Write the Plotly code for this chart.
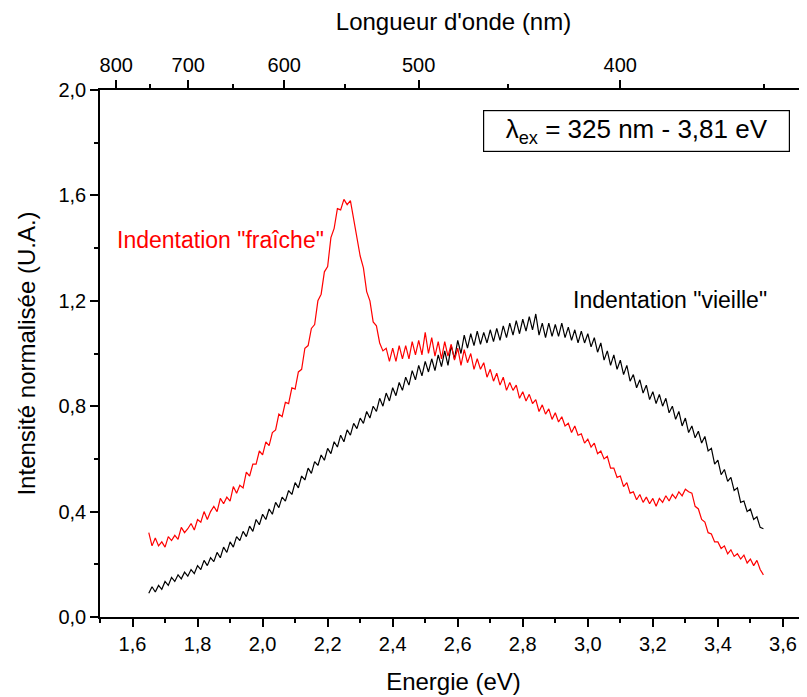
import plotly.graph_objects as go

# Spectres de photoluminescence (pas de 0,01 eV, de 1,65 a 3,54 eV)
energie = [round(1.65 + 0.01 * i, 2) for i in range(190)]

fraiche = [
    0.32, 0.27, 0.30, 0.27, 0.285, 0.265, 0.305, 0.29, 0.31, 0.295,
    0.34, 0.32, 0.335, 0.355, 0.33, 0.37, 0.36, 0.40, 0.37, 0.40,
    0.42, 0.40, 0.45, 0.43, 0.455, 0.44, 0.495, 0.47, 0.50, 0.49,
    0.55, 0.535, 0.58, 0.58, 0.63, 0.615, 0.665, 0.65, 0.70, 0.71,
    0.77, 0.76, 0.815, 0.81, 0.87, 0.865, 0.93, 0.94, 1.02, 1.03,
    1.095, 1.11, 1.20, 1.225, 1.31, 1.33, 1.44, 1.475, 1.55, 1.545,
    1.585, 1.565, 1.58, 1.51, 1.455, 1.37, 1.325, 1.235, 1.20, 1.12,
    1.105, 1.04, 1.01, 1.02, 0.97, 1.02, 0.97, 1.03, 0.98, 1.03,
    0.98, 1.045, 0.995, 1.05, 0.995, 1.08, 1.00, 1.06, 0.99, 1.045,
    0.98, 1.045, 0.99, 1.035, 0.975, 1.02, 0.955, 1.015, 0.965, 1.00,
    0.94, 0.98, 0.94, 0.965, 0.91, 0.94, 0.895, 0.925, 0.88, 0.91,
    0.86, 0.89, 0.86, 0.88, 0.83, 0.855, 0.82, 0.845, 0.81, 0.825,
    0.78, 0.805, 0.77, 0.79, 0.75, 0.775, 0.74, 0.76, 0.725, 0.735,
    0.70, 0.725, 0.69, 0.695, 0.66, 0.675, 0.645, 0.66, 0.62, 0.63,
    0.60, 0.61, 0.565, 0.565, 0.53, 0.535, 0.495, 0.51, 0.47, 0.475,
    0.445, 0.465, 0.435, 0.455, 0.43, 0.45, 0.42, 0.45, 0.435, 0.46,
    0.44, 0.465, 0.45, 0.475, 0.46, 0.485, 0.475, 0.47, 0.42, 0.41,
    0.37, 0.36, 0.32, 0.315, 0.285, 0.285, 0.26, 0.27, 0.24, 0.255,
    0.23, 0.24, 0.22, 0.235, 0.205, 0.22, 0.195, 0.215, 0.18, 0.16,
]

vieille = [
    0.09, 0.115, 0.095, 0.12, 0.105, 0.135, 0.12, 0.15, 0.135, 0.16,
    0.145, 0.17, 0.155, 0.18, 0.165, 0.195, 0.18, 0.215, 0.195, 0.225,
    0.21, 0.245, 0.225, 0.265, 0.245, 0.285, 0.265, 0.305, 0.29, 0.325,
    0.305, 0.345, 0.325, 0.37, 0.35, 0.39, 0.37, 0.41, 0.39, 0.435,
    0.415, 0.455, 0.44, 0.48, 0.465, 0.51, 0.49, 0.535, 0.52, 0.565,
    0.545, 0.59, 0.575, 0.615, 0.595, 0.64, 0.62, 0.665, 0.645, 0.69,
    0.665, 0.71, 0.69, 0.735, 0.715, 0.755, 0.735, 0.78, 0.755, 0.80,
    0.78, 0.83, 0.80, 0.85, 0.82, 0.87, 0.84, 0.89, 0.86, 0.91,
    0.88, 0.935, 0.90, 0.955, 0.915, 0.97, 0.93, 0.98, 0.935, 0.995,
    0.95, 1.01, 0.955, 1.03, 0.98, 1.05, 1.00, 1.07, 1.02, 1.075,
    1.03, 1.085, 1.035, 1.08, 1.04, 1.09, 1.045, 1.095, 1.05, 1.105,
    1.06, 1.115, 1.07, 1.125, 1.075, 1.13, 1.085, 1.14, 1.09, 1.15,
    1.07, 1.115, 1.06, 1.115, 1.065, 1.11, 1.065, 1.115, 1.06, 1.10,
    1.05, 1.09, 1.04, 1.085, 1.04, 1.075, 1.025, 1.06, 1.005, 1.04,
    0.975, 1.01, 0.955, 0.995, 0.94, 0.975, 0.92, 0.955, 0.895, 0.92,
    0.87, 0.90, 0.85, 0.88, 0.825, 0.855, 0.81, 0.845, 0.80, 0.83,
    0.775, 0.80, 0.75, 0.78, 0.725, 0.755, 0.70, 0.725, 0.68, 0.705,
    0.66, 0.685, 0.63, 0.64, 0.58, 0.595, 0.54, 0.56, 0.515, 0.53,
    0.48, 0.49, 0.435, 0.44, 0.40, 0.41, 0.37, 0.38, 0.34, 0.335,
]

# Axe du haut : longueurs d'onde (nm), placees en energie E = hc / lambda
lambda_majeurs = [800, 700, 600, 500, 400]
lambda_mineurs = [750, 650, 550, 450, 350]
HC = 1239.84

x_range = [1.5, 3.674]
police = "Arial, Liberation Sans, sans-serif"

fig = go.Figure()

fig.add_trace(go.Scatter(
    x=energie, y=vieille, mode="lines",
    line=dict(color="black", width=1.2), name="Indentation \"vieille\"",
))
fig.add_trace(go.Scatter(
    x=energie, y=fraiche, mode="lines",
    line=dict(color="#ff0000", width=1.2), name="Indentation \"fraîche\"",
))
# trace invisible pour ancrer l'axe du haut
fig.add_trace(go.Scatter(
    x=[energie[0]], y=[vieille[0]], xaxis="x2", mode="lines",
    line=dict(color="rgba(0,0,0,0)"), hoverinfo="skip", showlegend=False,
))

axe = dict(
    showline=True, linecolor="black", linewidth=1.5,
    ticks="outside", ticklen=8, tickwidth=1.5, tickcolor="black",
    showgrid=False, zeroline=False, mirror=False,
    tickfont=dict(size=20, color="black"),
)
mineur = dict(ticks="outside", ticklen=4, tickwidth=1.5, tickcolor="black")

# la page ajoute 8 px de marge au corps : la figure est reduite d'autant
fig.update_layout(
    width=799,
    height=689,
    margin=dict(l=92, r=0, t=82, b=80),
    plot_bgcolor="white",
    paper_bgcolor="white",
    separators=",.",
    showlegend=False,
    font=dict(family=police, color="black"),
    xaxis=dict(
        axe, range=x_range, tick0=1.6, dtick=0.2, tickformat=".1f",
        minor=dict(mineur, dtick=0.1),
        title=dict(text="Energie (eV)", font=dict(size=24), standoff=19),
    ),
    xaxis2=dict(
        axe, range=x_range, overlaying="x", side="top", anchor="y",
        tickmode="array",
        tickvals=[HC / l for l in lambda_majeurs],
        ticktext=[str(l) for l in lambda_majeurs],
        minor=dict(mineur, tickmode="array", tickvals=[HC / l for l in lambda_mineurs]),
        title=dict(text="Longueur d'onde (nm)", font=dict(size=24), standoff=18),
    ),
    yaxis=dict(
        axe, range=[0, 2], tick0=0, dtick=0.4, tickformat=".1f",
        minor=dict(mineur, dtick=0.2),
        title=dict(text="Intensité normalisée (U.A.)", font=dict(size=24), standoff=16),
    ),
)

fig.add_annotation(
    x=1.546, y=1.43, xref="x", yref="y", xanchor="left", yanchor="middle",
    text="Indentation \"fraîche\"", showarrow=False,
    font=dict(size=23, color="#ff0000"),
)
fig.add_annotation(
    x=2.949, y=1.203, xref="x", yref="y", xanchor="left", yanchor="middle",
    text="Indentation \"vieille\"", showarrow=False,
    font=dict(size=23, color="black"),
)
fig.add_annotation(
    x=3.151, y=1.844, xref="x", yref="y", xanchor="center", yanchor="middle",
    text="λ<sub>ex</sub> = 325 nm - 3,81 eV", showarrow=False,
    font=dict(size=26, color="black"),
    bordercolor="black", borderwidth=1.2, borderpad=3, bgcolor="white",
    width=299, height=34,
)

fig.write_html("out.html")
